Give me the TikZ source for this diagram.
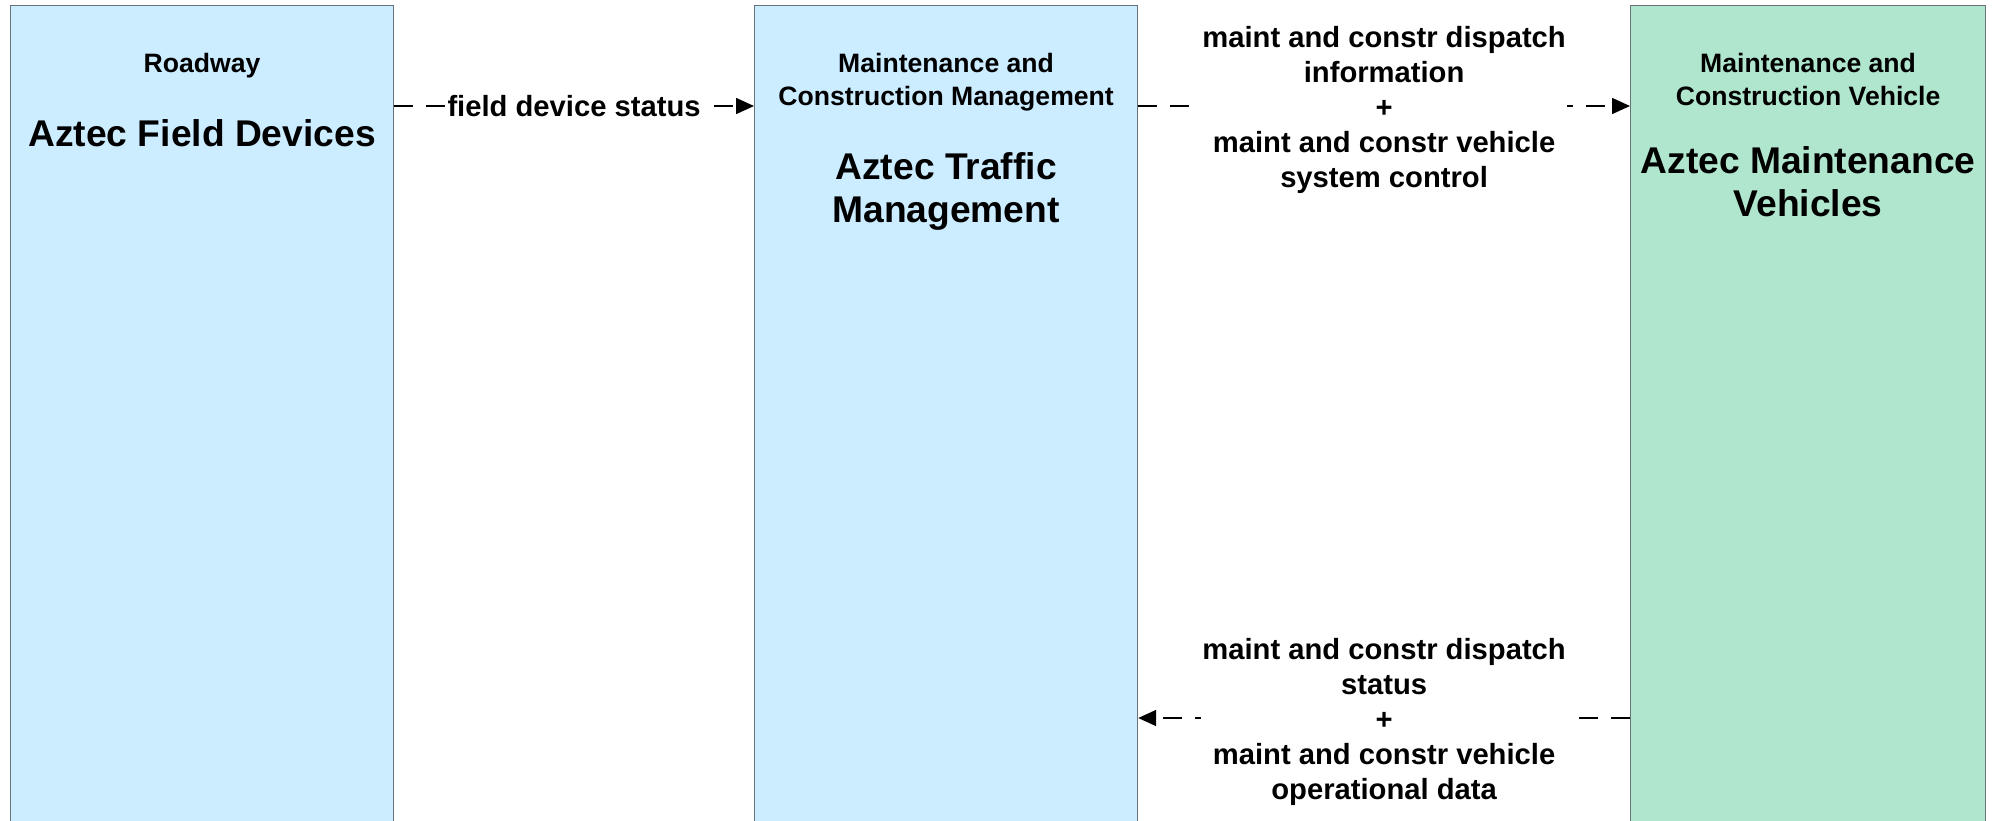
\documentclass[tikz,border=0pt]{standalone}
\usepackage{fontspec}
\setmainfont{Liberation Sans}
\usetikzlibrary{positioning,arrows.meta}
\definecolor{AztecBlue}{RGB}{204,236,255}
\definecolor{AztecGreen}{RGB}{176,229,206}
\definecolor{AztecGray}{RGB}{104,112,120}

\begin{document}
\begin{tikzpicture}[
  x=0.5pt, y=-0.5pt,
  sysbox/.style={
    draw=AztecGray,
    line width=0.6pt,
    anchor=north west,
    minimum width=191.5pt,
    minimum height=440pt,
    inner sep=0pt,
  },
  cattext/.style={
    font=\fontsize{13.3}{16.5}\selectfont\bfseries,
    align=center,
    inner sep=0pt,
    anchor=north,
  },
  titletext/.style={
    font=\fontsize{18.6}{21.5}\selectfont\bfseries,
    align=center,
    inner sep=0pt,
  },
  flow/.style={-{Triangle[length=9pt,width=8pt]}, line width=0.8pt,
    dash pattern=on 9.5pt off 6.5pt},
  flowlabel/.style={
    font=\fontsize{14.6}{17.5}\selectfont\bfseries,
    align=center,
    fill=white,
    inner sep=0.5pt,
  },
]
  \useasboundingbox (0,0) rectangle (1993,820);
  \clip (0,0) rectangle (1993,820);

  % systems
  \node[sysbox, fill=AztecBlue] (fd) at (10,5) {};
  \node[sysbox, fill=AztecBlue] (tm) at (754,5) {};
  \node[sysbox, fill=AztecGreen, minimum width=177.5pt] (mv) at (1630,5) {};

  \node[cattext] (fdcat) at ([yshift=-23.75pt]fd.north) {Roadway};
  \node[titletext, below=20.3pt of fdcat] (fdname) {Aztec Field Devices};

  \node[cattext] (tmcat) at ([yshift=-23.75pt]tm.north) {Maintenance and\\Construction Management};
  \node[titletext, below=20.3pt of tmcat] (tmname) {Aztec Traffic\\Management};

  \node[cattext] (mvcat) at ([yshift=-23.75pt]mv.north) {Maintenance and\\Construction Vehicle};
  \node[titletext, below=20.3pt of mvcat] (mvname) {Aztec Maintenance\\Vehicles};

  % flows
  \coordinate (upper) at (0,106);
  \coordinate (lower) at (0,718);

  \draw[flow] (fd.east |- upper) -- node[flowlabel] (fdflow) {field device status} (tm.west |- upper);
  \draw[flow] (tm.east |- upper) -- node[flowlabel, yshift=-2pt] (dispinfo)
    {maint and constr dispatch\\information\\+\\maint and constr vehicle\\system control} (mv.west |- upper);
  \draw[flow] (mv.west |- lower) -- node[flowlabel, yshift=-2pt] (dispstat)
    {maint and constr dispatch\\status\\+\\maint and constr vehicle\\operational data} (tm.east |- lower);
\end{tikzpicture}
\end{document}
